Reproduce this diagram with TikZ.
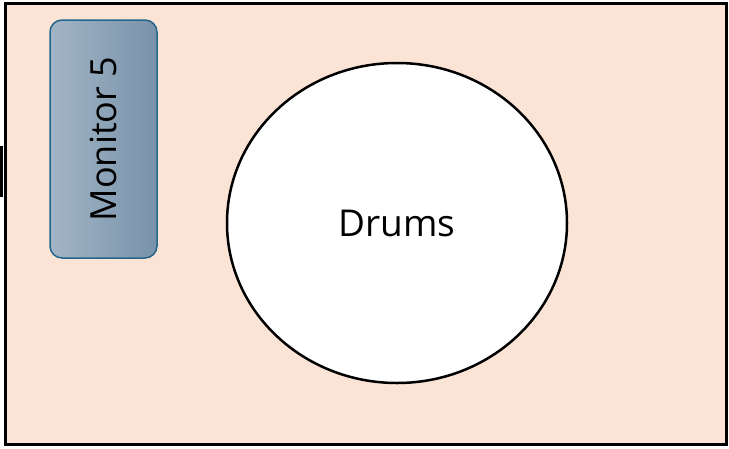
\documentclass[tikz,border=0pt]{standalone}
\usepackage{fontspec}
\setmainfont{Open Sans}
\usetikzlibrary{positioning}
\definecolor{cpeach}{HTML}{FBE3D6}
\definecolor{cmonl}{HTML}{A2B5C5}
\definecolor{cmonr}{HTML}{7892AA}
\definecolor{cmonedge}{HTML}{23668C}
\tikzset{
  every picture/.style={line width=2.5pt},
  stage/.style={draw=black, fill=cpeach, inner sep=0pt, line width=3pt},
  wedge/.style={draw=cmonedge, line width=1.5pt, rounded corners=12pt, inner sep=0pt,
    left color=cmonl, right color=cmonr, font=\fontsize{36}{40}\selectfont},
  kit/.style={draw=black, fill=white, ellipse, inner sep=0pt, font=\fontsize{37}{40}\selectfont},
}
\usetikzlibrary{shapes.geometric}
\begin{document}
\begin{tikzpicture}[x=1pt, y=-1pt]
  \useasboundingbox (0,0) rectangle (729,448);
  % stage area
  \node[stage, minimum width=721pt, minimum height=441pt] (stage) at (365.5,223.5) {};
  \fill[black] (0,146) rectangle (3,197);
  % monitor wedge, text turned upwards
  \node[wedge, rotate=90, minimum width=238pt, minimum height=107pt] (mon5) at (103.5,139) {Monitor 5};
  % drum riser
  \node[kit, minimum width=340pt, minimum height=320pt] (drums) at (397,223) {Drums};
\end{tikzpicture}
\end{document}
